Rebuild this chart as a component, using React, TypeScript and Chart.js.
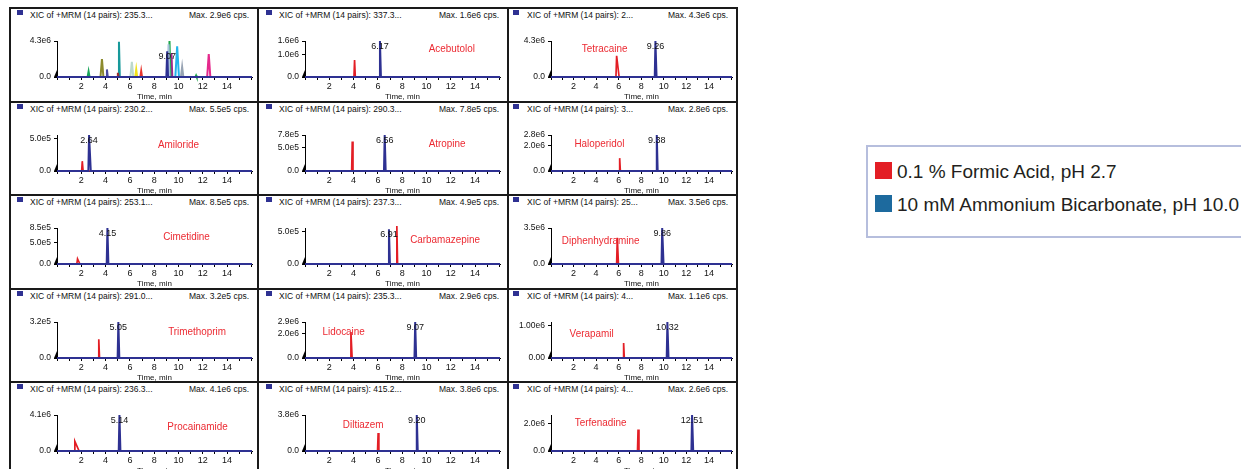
import React, { useEffect, useRef } from "react";
import { Chart, registerables } from "chart.js";

Chart.register(...registerables);

// ---------------- data ----------------
const RUN_END = 16.05;
const timeTicks = [0, 1, 2, 3, 4, 5, 6, 7, 8, 9, 10, 11, 12, 13, 14, 15, 16];
const timeTickLabels = ["", "", "2", "", "4", "", "6", "", "8", "", "10", "", "12", "", "14", "", ""];

// overview panel (all 14 MRM pairs overlaid)
const overviewHeader = "235.3...";
const overviewMax = "2.9e6";
const overviewYTop = 4.3e6;
const overviewYTicks = [0, 4.3e6];
const overviewYLabels = ["0.0", "4.3e6"];
const overviewTimes = [2.6, 3.7, 4.11, 5.01, 5.1, 6.16, 6.52, 6.93, 9.18, 9.26, 9.42, 9.89, 10.3, 11.45, 12.49, 9.07];
const overviewHeights = [6.6e5, 2.15e6, 9.0e5, 5.0e5, 4.2e6, 1.82e6, 9.0e5, 7.0e5, 3.9e6, 4.3e6, 2.85e6, 3.68e6, 1.2e6, 1.7e5, 2.73e6, 3.06e6];
const overviewHalfWidths = [0.08, 0.12, 0.07, 0.06, 0.07, 0.12, 0.08, 0.07, 0.08, 0.07, 0.07, 0.15, 0.1, 0.05, 0.13, 0.07];
const overviewColors = ["#19a55a", "#8c8a2e", "#4b4ba0", "#9c2f2f", "#17999a", "#bcd9cc", "#f2e21c", "#e8342c", "#a9c3dc", "#1ea64b", "#a0288e", "#22b4ea", "#97a3b3", "#1ea64b", "#e5298c", "#2e3192"];
const overviewLabel = "9.07";

// individual compounds
const compoundNames = ["Acebutolol", "Tetracaine", "Amiloride", "Atropine", "Haloperidol", "Cimetidine", "Carbamazepine", "Diphenhydramine", "Trimethoprim", "Lidocaine", "Verapamil", "Procainamide", "Diltiazem", "Terfenadine"];
const xicMasses = ["337.3...", "2...", "230.2...", "290.3...", "3...", "253.1...", "237.3...", "25...", "291.0...", "235.3...", "4...", "236.3...", "415.2...", "4..."];
const maxCps = ["1.6e6", "4.3e6", "5.5e5", "7.8e5", "2.8e6", "8.5e5", "4.9e5", "3.5e6", "3.2e5", "2.9e6", "1.1e6", "4.1e6", "3.8e6", "2.6e6"];
const yAxisTop = [1.6e6, 4.3e6, 5.5e5, 7.8e5, 2.8e6, 8.5e5, 5.5e5, 3.5e6, 3.2e5, 2.9e6, 1.1e6, 4.1e6, 3.8e6, 2.6e6];
const yTickValues = [[0, 1.0e6, 1.6e6], [0, 4.3e6], [0, 5.0e5], [0, 5.0e5, 7.8e5], [0, 2.0e6, 2.8e6], [0, 5.0e5, 8.5e5], [0, 5.0e5], [0, 3.5e6], [0, 3.2e5], [0, 2.0e6, 2.9e6], [0, 1.0e6], [0, 4.1e6], [0, 3.8e6], [0, 2.0e6]];
const yTickTexts = [["0.0", "1.0e6", "1.6e6"], ["0.0", "4.3e6"], ["0.0", "5.0e5"], ["0.0", "5.0e5", "7.8e5"], ["0.0", "2.0e6", "2.8e6"], ["0.0", "5.0e5", "8.5e5"], ["0.0", "5.0e5"], ["0.0", "3.5e6"], ["0.0", "3.2e5"], ["0.0", "2.0e6", "2.9e6"], ["0.00", "1.00e6"], ["0.0", "4.1e6"], ["0.0", "3.8e6"], ["0.0", "2.0e6"]];

// 0.1 % formic acid (red)
const formicTime = [4.08, 5.82, 2.08, 3.89, 6.09, 1.69, 7.56, 5.88, 3.44, 3.78, 6.44, 1.47, 6.02, 7.72];
const formicHeight = [7.5e5, 2.54e6, 1.5e5, 6.4e5, 1.0e6, 1.2e5, 5.8e5, 2.56e6, 1.66e5, 2.1e6, 4.6e5, 1.1e6, 1.9e6, 1.55e6];
const formicLead = [0.05, 0.06, 0.05, 0.05, 0.05, 0.06, 0.05, 0.06, 0.05, 0.06, 0.05, 0.06, 0.05, 0.05];
const formicTrail = [0.06, 0.22, 0.07, 0.06, 0.06, 0.2, 0.06, 0.1, 0.06, 0.1, 0.06, 0.35, 0.06, 0.08];

// 10 mM ammonium bicarbonate (blue)
const bicarbTime = [6.17, 9.26, 2.64, 6.56, 9.38, 4.15, 6.91, 9.86, 5.05, 9.07, 10.32, 5.14, 9.2, 12.51];
const bicarbHeight = [1.6e6, 4.3e6, 5.5e5, 7.8e5, 2.8e6, 8.5e5, 5.3e5, 3.5e6, 3.2e5, 2.9e6, 1.1e6, 4.1e6, 3.8e6, 2.6e6];
const bicarbLead = [0.06, 0.06, 0.06, 0.06, 0.06, 0.06, 0.06, 0.06, 0.06, 0.06, 0.06, 0.06, 0.06, 0.06];
const bicarbTrail = [0.08, 0.1, 0.14, 0.08, 0.08, 0.08, 0.08, 0.12, 0.08, 0.08, 0.1, 0.08, 0.08, 0.1];
const bicarbLabels = ["6.17", "9.26", "2.64", "6.56", "9.38", "4.15", "6.91", "9.86", "5.05", "9.07", "10.32", "5.14", "9.20", "12.51"];

// compound name placement (time, fraction of y-axis top)
const nameTime = [12.08, 4.75, 10.0, 11.7, 4.3, 10.66, 11.53, 4.4, 11.53, 3.18, 3.6, 11.57, 4.79, 4.4];
const nameLevel = [0.78, 0.77, 0.74, 0.75, 0.75, 0.75, 0.66, 0.63, 0.72, 0.73, 0.67, 0.66, 0.72, 0.78];

const legendLabels = ["0.1 % Formic Acid, pH 2.7", "10 mM Ammonium Bicarbonate, pH 10.0"];

// ---------------- styles / layout ----------------
const NAVY = "#2e3192";
const RED = "#e31e25";
const NARROW = '"Liberation Sans Narrow", "Liberation Sans", Arial, sans-serif';
const SANS = '"Liberation Sans", Arial, sans-serif';

const COLS = [
  { left: 10, width: 248, axisX: 47, plotW: 195, sq: 7, txt: 20 },
  { left: 258, width: 250, axisX: 47, plotW: 195, sq: 8, txt: 21 },
  { left: 508, width: 229, axisX: 43, plotW: 181, sq: 5, txt: 19 },
];
const ROWS = [8, 102, 195, 289, 382];
const CANVAS_OFFSET = 20;
const CANVAS_H = 74;
const PAD_TOP = 13;
const X_AXIS_H = 25;

type Pt = { x: number; y: number };

function peak(t: number, h: number, lead: number, trail: number): Pt[] {
  return [
    { x: t - lead, y: 0 },
    { x: t, y: h },
    { x: t + trail, y: 0 },
  ];
}

interface PanelSpec {
  header: string;
  max: string;
  yTop: number;
  yTicks: number[];
  yLabels: string[];
  datasets: any[];
  label: { t: number; h: number; text: string };
  name?: { t: number; f: number; text: string };
}

function buildPanel(p: number): PanelSpec {
  if (p === 0) {
    const navyIdx = overviewTimes.length - 1;
    const datasets: any[] = [
      {
        data: [{ x: 0, y: 0 }, ...peak(overviewTimes[navyIdx], overviewHeights[navyIdx], overviewHalfWidths[navyIdx], overviewHalfWidths[navyIdx]), { x: RUN_END, y: 0 }],
        borderColor: NAVY,
        borderWidth: 2,
      },
    ];
    for (let i = 0; i < navyIdx; i++) {
      datasets.push({
        data: peak(overviewTimes[i], overviewHeights[i], overviewHalfWidths[i], overviewHalfWidths[i]),
        borderColor: overviewColors[i],
        backgroundColor: overviewColors[i],
        borderWidth: 2,
      });
    }
    return {
      header: overviewHeader,
      max: overviewMax,
      yTop: overviewYTop,
      yTicks: overviewYTicks,
      yLabels: overviewYLabels,
      datasets,
      label: { t: overviewTimes[navyIdx], h: overviewHeights[navyIdx], text: overviewLabel },
    };
  }
  const i = p - 1;
  return {
    header: xicMasses[i],
    max: maxCps[i],
    yTop: yAxisTop[i],
    yTicks: yTickValues[i],
    yLabels: yTickTexts[i],
    datasets: [
      {
        data: [{ x: 0, y: 0 }, ...peak(bicarbTime[i], bicarbHeight[i], bicarbLead[i], bicarbTrail[i]), { x: RUN_END, y: 0 }],
        borderColor: NAVY,
        borderWidth: 2,
      },
      {
        data: [{ x: 0, y: 0 }, ...peak(formicTime[i], formicHeight[i], formicLead[i], formicTrail[i]), { x: RUN_END, y: 0 }],
        borderColor: RED,
        borderWidth: 1.7,
      },
    ],
    label: { t: bicarbTime[i], h: bicarbHeight[i], text: bicarbLabels[i] },
    name: { t: nameTime[i], f: nameLevel[i], text: compoundNames[i] },
  };
}

function Panel({ p }: { p: number }) {
  const ref = useRef<HTMLCanvasElement>(null);
  const row = Math.floor(p / 3);
  const col = p % 3;
  const geo = COLS[col];
  const top = ROWS[row];
  const spec = buildPanel(p);

  useEffect(() => {
    const annotate = {
      id: "annotate",
      afterDatasetsDraw(chart: any) {
        const { ctx, chartArea, scales } = chart;
        const x = scales.x;
        const y = scales.y;
        ctx.save();
        // origin marker
        ctx.fillStyle = "#000";
        ctx.beginPath();
        ctx.moveTo(chartArea.left - 3, chartArea.bottom);
        ctx.lineTo(chartArea.left, chartArea.bottom - 7);
        ctx.lineTo(chartArea.left, chartArea.bottom);
        ctx.closePath();
        ctx.fill();
        // peak retention-time label
        ctx.font = `9px ${SANS}`;
        ctx.fillStyle = "#111";
        ctx.textAlign = "center";
        ctx.textBaseline = "middle";
        ctx.fillText(spec.label.text, x.getPixelForValue(spec.label.t), y.getPixelForValue(spec.label.h) + 5.5);
        // compound name
        if (spec.name) {
          ctx.translate(x.getPixelForValue(spec.name.t), y.getPixelForValue(spec.name.f * spec.yTop));
          ctx.scale(0.86, 1);
          ctx.font = `11.5px ${SANS}`;
          ctx.fillStyle = "#ec2a32";
          ctx.fillText(spec.name.text, 0, 0);
        }
        ctx.restore();
      },
    };

    const chart = new Chart(ref.current as HTMLCanvasElement, {
      type: "line",
      data: {
        datasets: spec.datasets.map((d) => ({ ...d, pointRadius: 0, tension: 0, fill: false, clip: false })),
      },
      options: {
        animation: false,
        responsive: false,
        maintainAspectRatio: false,
        events: [],
        layout: {
          autoPadding: false,
          padding: { top: PAD_TOP, right: geo.width - geo.axisX - geo.plotW, bottom: 0, left: 0 },
        },
        plugins: { legend: { display: false }, tooltip: { enabled: false }, title: { display: false } },
        scales: {
          x: {
            type: "linear",
            min: 0,
            max: RUN_END,
            afterBuildTicks: (s: any) => {
              s.ticks = timeTicks.map((v) => ({ value: v }));
            },
            afterFit: (s: any) => {
              s.height = X_AXIS_H;
            },
            grid: { drawOnChartArea: false, drawTicks: true, tickLength: 3, color: "#000", lineWidth: 1 },
            border: { display: true, color: "#000", width: 1 },
            ticks: {
              autoSkip: false,
              maxRotation: 0,
              padding: 1,
              color: "#111",
              font: { family: SANS, size: 9 },
              callback: (v: any) => timeTickLabels[timeTicks.indexOf(Number(v))] ?? "",
            },
            title: {
              display: true,
              text: "Time, min",
              padding: 0,
              color: "#111",
              font: { family: NARROW, size: 8 },
            },
          },
          y: {
            type: "linear",
            min: 0,
            max: spec.yTop,
            afterBuildTicks: (s: any) => {
              s.ticks = spec.yTicks.map((v) => ({ value: v }));
            },
            afterFit: (s: any) => {
              s.width = geo.axisX;
            },
            grid: { drawOnChartArea: false, drawTicks: true, tickLength: 3, color: "#000", lineWidth: 1 },
            border: { display: true, color: "#000", width: 1 },
            ticks: {
              autoSkip: false,
              padding: 3,
              color: "#111",
              font: { family: NARROW, size: 8.5 },
              callback: (v: any) => spec.yLabels[spec.yTicks.indexOf(Number(v))] ?? "",
            },
          },
        },
      },
      plugins: [annotate],
    } as any);
    return () => chart.destroy();
  }, []);

  return (
    <>
      <canvas
        ref={ref}
        width={geo.width}
        height={CANVAS_H}
        style={{ position: "absolute", left: geo.left, top: top + CANVAS_OFFSET, width: geo.width, height: CANVAS_H }}
      />
      <div style={{ position: "absolute", left: geo.left + geo.sq, top: top + 2, width: 6, height: 5, background: NAVY }} />
      <div
        style={{
          position: "absolute",
          left: geo.left + geo.txt,
          top: top + 2,
          font: `8.5px ${SANS}`,
          lineHeight: "11px",
          color: "#111",
          whiteSpace: "nowrap",
        }}
      >
        {`XIC of +MRM (14 pairs): ${spec.header}`}
      </div>
      <div
        style={{
          position: "absolute",
          left: geo.left,
          width: geo.width - 9,
          top: top + 2,
          font: `8.5px ${SANS}`,
          lineHeight: "11px",
          color: "#111",
          textAlign: "right",
          whiteSpace: "nowrap",
        }}
      >
        {`Max. ${spec.max} cps.`}
      </div>
    </>
  );
}

function Borders() {
  const items: JSX.Element[] = [];
  for (let r = 0; r < ROWS.length; r++) {
    for (let c = 0; c < COLS.length; c++) {
      const g = COLS[c];
      items.push(
        <div
          key={`${r}-${c}`}
          style={{
            position: "absolute",
            left: g.left - 1,
            top: ROWS[r] - 1,
            width: g.width + (c === 2 ? 2 : 0),
            height: r < ROWS.length - 1 ? ROWS[r + 1] - ROWS[r] : 100,
            boxSizing: "border-box",
            borderTop: "2px solid #1a1a1a",
            borderLeft: "2px solid #1a1a1a",
            borderRight: c === 2 ? "2px solid #1a1a1a" : "none",
            pointerEvents: "none",
          }}
        />
      );
    }
  }
  return <>{items}</>;
}

function Legend() {
  const colors = [RED, "#1d6a9e"];
  return (
    <div
      style={{
        position: "absolute",
        left: 866,
        top: 145,
        width: 420,
        height: 93,
        boxSizing: "border-box",
        border: "2px solid #b6bedd",
        background: "#fff",
      }}
    >
      {legendLabels.map((l, i) => (
        <React.Fragment key={l}>
          <div style={{ position: "absolute", left: 7, top: 15 + i * 32.5, width: 17, height: 17, background: colors[i] }} />
          <div
            style={{
              position: "absolute",
              left: 29,
              top: 14 + i * 32.5,
              font: `19px ${SANS}`,
              lineHeight: "21px",
              color: "#231f20",
              whiteSpace: "nowrap",
            }}
          >
            {l}
          </div>
        </React.Fragment>
      ))}
    </div>
  );
}

export default function App() {
  const panels = Array.from({ length: 15 }, (_, p) => p);
  return (
    <div style={{ position: "absolute", left: 0, top: 0, width: 1241, height: 469, overflow: "hidden", background: "#fff" }}>
      {panels.map((p) => (
        <Panel key={p} p={p} />
      ))}
      <Borders />
      <Legend />
    </div>
  );
}
